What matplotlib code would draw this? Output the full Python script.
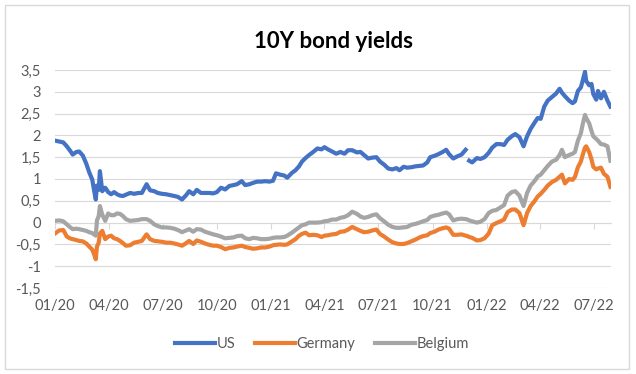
import matplotlib
matplotlib.use("Agg")
import matplotlib.pyplot as plt
import matplotlib.dates as mdates
from matplotlib.patches import Rectangle
from matplotlib.ticker import FuncFormatter
import numpy as np
import pandas as pd

# values (roughly weekly)
dates = [
    "2020-01-01", "2020-01-08", "2020-01-15", "2020-01-21", "2020-01-26", "2020-01-31",
    "2020-02-06", "2020-02-11", "2020-02-17", "2020-02-23", "2020-02-28", "2020-03-04",
    "2020-03-07", "2020-03-10", "2020-03-12", "2020-03-15", "2020-03-17", "2020-03-21",
    "2020-03-26", "2020-03-31", "2020-04-05", "2020-04-10", "2020-04-15", "2020-04-20",
    "2020-04-25", "2020-04-30", "2020-05-07", "2020-05-14", "2020-05-21", "2020-05-27",
    "2020-06-04", "2020-06-10", "2020-06-17", "2020-06-23", "2020-06-30", "2020-07-07",
    "2020-07-14", "2020-07-21", "2020-07-27", "2020-08-03", "2020-08-10", "2020-08-15",
    "2020-08-22", "2020-08-28", "2020-09-04", "2020-09-11", "2020-09-18", "2020-09-25",
    "2020-10-01", "2020-10-08", "2020-10-15", "2020-10-22", "2020-10-29", "2020-11-04",
    "2020-11-12", "2020-11-18", "2020-11-25", "2020-12-01", "2020-12-08", "2020-12-15",
    "2020-12-22", "2020-12-29", "2021-01-04", "2021-01-09", "2021-01-16", "2021-01-23",
    "2021-01-28", "2021-02-05", "2021-02-11", "2021-02-17", "2021-02-22", "2021-02-28",
    "2021-03-06", "2021-03-13", "2021-03-20", "2021-03-27", "2021-04-01", "2021-04-07",
    "2021-04-14", "2021-04-21", "2021-04-28", "2021-05-05", "2021-05-11", "2021-05-18",
    "2021-05-26", "2021-06-01", "2021-06-07", "2021-06-14", "2021-06-21", "2021-06-28",
    "2021-07-04", "2021-07-11", "2021-07-18", "2021-07-25", "2021-08-01", "2021-08-06",
    "2021-08-13", "2021-08-19", "2021-08-26", "2021-09-02", "2021-09-09", "2021-09-15",
    "2021-09-22", "2021-09-27", "2021-10-04", "2021-10-11", "2021-10-18", "2021-10-24",
    "2021-10-29", "2021-11-05", "2021-11-12", "2021-11-19", "2021-11-26", "2021-11-29",
    "2021-12-02", "2021-12-07", "2021-12-15", "2021-12-21", "2021-12-28", "2022-01-04",
    "2022-01-10", "2022-01-17", "2022-01-24", "2022-01-30", "2022-02-05", "2022-02-12",
    "2022-02-18", "2022-02-25", "2022-03-04", "2022-03-10", "2022-03-16", "2022-03-23",
    "2022-03-28", "2022-04-02", "2022-04-08", "2022-04-14", "2022-04-21", "2022-04-28",
    "2022-05-04", "2022-05-08", "2022-05-13", "2022-05-20", "2022-05-26", "2022-05-30",
    "2022-06-04", "2022-06-09", "2022-06-12", "2022-06-16", "2022-06-18", "2022-06-23",
    "2022-06-27", "2022-06-30", "2022-07-05", "2022-07-08", "2022-07-13", "2022-07-18",
    "2022-07-24", "2022-07-29",
]

us = [
    1.88, 1.86, 1.84, 1.75, 1.66, 1.56,
    1.62, 1.63, 1.54, 1.35, 1.15, 0.99,
    0.75, 0.53, 0.85, 0.75, 1.18, 0.72,
    0.80, 0.70, 0.65, 0.70, 0.65, 0.62,
    0.61, 0.64, 0.68, 0.66, 0.68, 0.68,
    0.88, 0.74, 0.72, 0.68, 0.66, 0.65,
    0.63, 0.61, 0.59, 0.53, 0.63, 0.72,
    0.65, 0.75, 0.68, 0.68, 0.68, 0.67,
    0.70, 0.80, 0.76, 0.84, 0.86, 0.88,
    0.95, 0.86, 0.88, 0.91, 0.94, 0.94,
    0.95, 0.94, 0.96, 1.13, 1.10, 1.08,
    1.03, 1.14, 1.20, 1.29, 1.40, 1.48,
    1.55, 1.62, 1.70, 1.68, 1.73, 1.68,
    1.63, 1.58, 1.62, 1.58, 1.66, 1.66,
    1.61, 1.62, 1.55, 1.47, 1.49, 1.50,
    1.40, 1.33, 1.24, 1.22, 1.25, 1.20,
    1.28, 1.26, 1.27, 1.29, 1.30, 1.31,
    1.38, 1.50, 1.53, 1.57, 1.62, 1.67,
    1.57, 1.47, 1.52, 1.56, 1.67, np.nan,
    1.42, 1.38, 1.48, 1.46, 1.50, 1.60,
    1.72, 1.80, 1.80, 1.78, 1.90, 1.98,
    2.03, 1.96, 1.75, 1.98, 2.15, 2.30,
    2.40, 2.38, 2.66, 2.80, 2.88, 2.96,
    3.07, 2.98, 2.90, 2.80, 2.74, 2.78,
    3.02, 3.10, 3.25, 3.46, 3.25, 3.15,
    3.18, 2.95, 2.82, 3.02, 2.85, 3.00,
    2.80, 2.66,
]

germany = [
    -0.25, -0.18, -0.17, -0.32, -0.36, -0.38,
    -0.40, -0.42, -0.43, -0.48, -0.55, -0.62,
    -0.72, -0.84, -0.55, -0.46, -0.25, -0.19,
    -0.38, -0.32, -0.30, -0.36, -0.38, -0.42,
    -0.47, -0.53, -0.52, -0.46, -0.44, -0.42,
    -0.27, -0.38, -0.42, -0.43, -0.44, -0.46,
    -0.46, -0.48, -0.50, -0.53, -0.47, -0.42,
    -0.49, -0.41, -0.44, -0.48, -0.51, -0.53,
    -0.53, -0.56, -0.61, -0.58, -0.57, -0.55,
    -0.53, -0.56, -0.58, -0.60, -0.59, -0.57,
    -0.57, -0.55, -0.52, -0.51, -0.50, -0.51,
    -0.50, -0.43, -0.38, -0.30, -0.26, -0.23,
    -0.29, -0.28, -0.29, -0.33, -0.30, -0.29,
    -0.27, -0.26, -0.21, -0.20, -0.16, -0.10,
    -0.15, -0.19, -0.22, -0.21, -0.18, -0.16,
    -0.26, -0.32, -0.39, -0.45, -0.48, -0.49,
    -0.49, -0.47, -0.43, -0.39, -0.34, -0.31,
    -0.29, -0.24, -0.21, -0.16, -0.13, -0.11,
    -0.14, -0.28, -0.28, -0.27, -0.30, -0.31,
    -0.33, -0.35, -0.41, -0.40, -0.36, -0.25,
    -0.06, -0.01, 0.03, 0.07, 0.24, 0.30,
    0.30, 0.22, -0.06, 0.22, 0.38, 0.50,
    0.60, 0.66, 0.75, 0.85, 0.93, 0.98,
    1.05, 1.10, 0.90, 1.00, 0.98, 1.05,
    1.27, 1.40, 1.55, 1.72, 1.75, 1.62,
    1.45, 1.28, 1.22, 1.24, 1.26, 1.12,
    1.05, 0.82,
]

belgium = [
    0.04, 0.05, 0.03, -0.04, -0.10, -0.15,
    -0.14, -0.15, -0.17, -0.19, -0.22, -0.24,
    -0.27, -0.30, 0.05, 0.15, 0.38, 0.18,
    0.04, 0.21, 0.17, 0.17, 0.21, 0.20,
    0.15, 0.08, 0.04, 0.05, 0.06, 0.08,
    0.08, 0.04, -0.04, -0.08, -0.11, -0.11,
    -0.12, -0.14, -0.17, -0.22, -0.18, -0.15,
    -0.21, -0.15, -0.16, -0.21, -0.24, -0.27,
    -0.29, -0.32, -0.36, -0.35, -0.34, -0.31,
    -0.30, -0.36, -0.38, -0.35, -0.36, -0.38,
    -0.38, -0.37, -0.35, -0.34, -0.34, -0.33,
    -0.30, -0.23, -0.17, -0.11, -0.06, -0.04,
    0.00, 0.00, 0.00, 0.01, 0.03, 0.04,
    0.07, 0.07, 0.11, 0.13, 0.17, 0.25,
    0.20, 0.14, 0.11, 0.13, 0.17, 0.19,
    0.10, 0.03, -0.05, -0.10, -0.12, -0.12,
    -0.11, -0.10, -0.05, -0.03, 0.00, 0.03,
    0.06, 0.13, 0.16, 0.18, 0.21, 0.23,
    0.19, 0.05, 0.08, 0.09, 0.08, 0.07,
    0.05, 0.03, 0.00, 0.02, 0.08, 0.22,
    0.27, 0.29, 0.35, 0.40, 0.62, 0.70,
    0.72, 0.62, 0.38, 0.68, 0.85, 0.96,
    1.06, 1.10, 1.20, 1.30, 1.40, 1.44,
    1.55, 1.67, 1.50, 1.55, 1.58, 1.62,
    1.88, 2.05, 2.25, 2.47, 2.40, 2.28,
    2.10, 1.98, 1.92, 1.88, 1.80, 1.79,
    1.75, 1.42,
]

series_names = ["US", "Germany", "Belgium"]
colors = ["#4472C4", "#ED7D31", "#A5A5A5"]

x = pd.to_datetime(dates)

plt.rcParams["font.family"] = ["Lato", "DejaVu Sans"]

fig = plt.figure(figsize=(6.36, 3.74), dpi=100)
ax = fig.add_axes([55 / 636, 1 - 288 / 374, 556 / 636, 218 / 374])

# chart border
fig.patches.append(Rectangle((5 / 636, 1 - 369 / 374), 624 / 636, 364 / 374,
                             transform=fig.transFigure, fill=False,
                             edgecolor="#D9D9D9", linewidth=1))

for vals, name, col in zip([us, germany, belgium], series_names, colors):
    ax.plot(x, vals, color=col, linewidth=3.0, label=name, solid_joinstyle="round")

ax.set_ylim(-1.5, 3.5)
ax.set_xlim(pd.Timestamp("2020-01-01"), pd.Timestamp("2022-07-30"))
ax.set_yticks(np.arange(-1.5, 3.51, 0.5))
ax.yaxis.set_major_formatter(FuncFormatter(lambda v, p: ("%g" % v).replace(".", ",")))
ax.grid(axis="y", color="#D9D9D9", linewidth=0.8)
ax.set_axisbelow(True)

ax.xaxis.set_major_locator(mdates.MonthLocator(bymonth=[1, 4, 7, 10]))
ax.xaxis.set_major_formatter(mdates.DateFormatter("%m/%y"))

for s in ax.spines.values():
    s.set_visible(False)
ax.tick_params(axis="both", length=0, labelsize=10.5, labelcolor="#595959")
ax.tick_params(axis="x", pad=8)
ax.tick_params(axis="y", pad=10)

# horizontal axis line crossing at zero with small tick marks
sec = ax.secondary_xaxis(0.3)
sec.xaxis.set_major_locator(mdates.MonthLocator(bymonth=[1, 4, 7, 10]))
sec.spines["bottom"].set_color("#D9D9D9")
sec.tick_params(axis="x", length=4, color="#D9D9D9", labelbottom=False)

ax.set_title("10Y bond yields", fontsize=16, fontweight="bold", color="black", pad=16)

ax.legend(loc="upper center", bbox_to_anchor=(0.48, -0.165), ncol=3, frameon=False,
          fontsize=10.5, labelcolor="#595959", handlelength=2.8, handletextpad=0.1,
          columnspacing=1.3)

fig.savefig("out.png", dpi=100)
